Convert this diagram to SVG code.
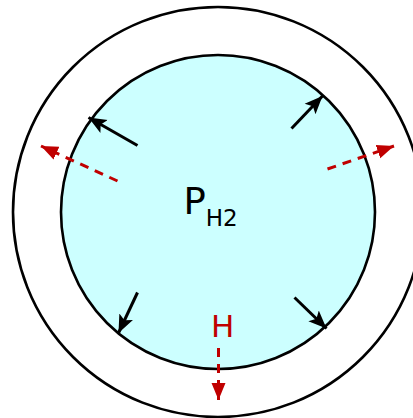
<svg xmlns="http://www.w3.org/2000/svg" width="413" height="418" viewBox="0 0 413 418">
<defs>
<style>
.ring{fill:none;stroke:#000;stroke-width:2.6}
.inner{fill:#ccffff;stroke:#000;stroke-width:2.6}
.push{stroke:#000;stroke-width:3;fill:none}
.leak{stroke:#c00000;stroke-width:3;fill:none;stroke-dasharray:9 7}
.lbl{font-family:"DejaVu Sans",Verdana,sans-serif}
</style>
<marker id="ab" markerUnits="userSpaceOnUse" markerWidth="20" markerHeight="20" viewBox="0 0 20 20" refX="18" refY="10" orient="auto">
<path d="M0,2.5 L18,10 L0,17.5 L4,10 Z" fill="#000"/>
</marker>
<marker id="ar" markerUnits="userSpaceOnUse" markerWidth="20" markerHeight="20" viewBox="0 0 20 20" refX="17" refY="10" orient="auto">
<path d="M0,3 L17,10 L0,17 Z" fill="#c00000"/>
</marker>
</defs>
<g id="outer-wall"><circle class="ring" cx="218" cy="212" r="205"/></g>
<g id="vessel"><circle class="inner" cx="218" cy="212" r="157"/></g>
<g id="label-p"><text class="lbl" x="183.5" y="214" font-size="37" fill="#000">P<tspan font-size="23" dy="12">H2</tspan></text></g>
<g id="label-h"><text class="lbl" x="211" y="336.5" font-size="31" fill="#c00000">H</text></g>
<g id="connectors">
<line class="push" x1="137.5" y1="145.5" x2="88.5" y2="117.5" marker-end="url(#ab)"/>
<line class="push" x1="291.5" y1="128.5" x2="322.5" y2="96" marker-end="url(#ab)"/>
<line class="push" x1="137.5" y1="292.5" x2="118.5" y2="333" marker-end="url(#ab)"/>
<line class="push" x1="294.5" y1="297.5" x2="326.5" y2="328.5" marker-end="url(#ab)"/>
<line class="leak" x1="117.5" y1="181" x2="41" y2="146" marker-end="url(#ar)"/>
<line class="leak" x1="327.5" y1="169" x2="394" y2="146" marker-end="url(#ar)"/>
<line class="leak" x1="218.5" y1="348" x2="218.5" y2="400" marker-end="url(#ar)"/>
</g>
</svg>
